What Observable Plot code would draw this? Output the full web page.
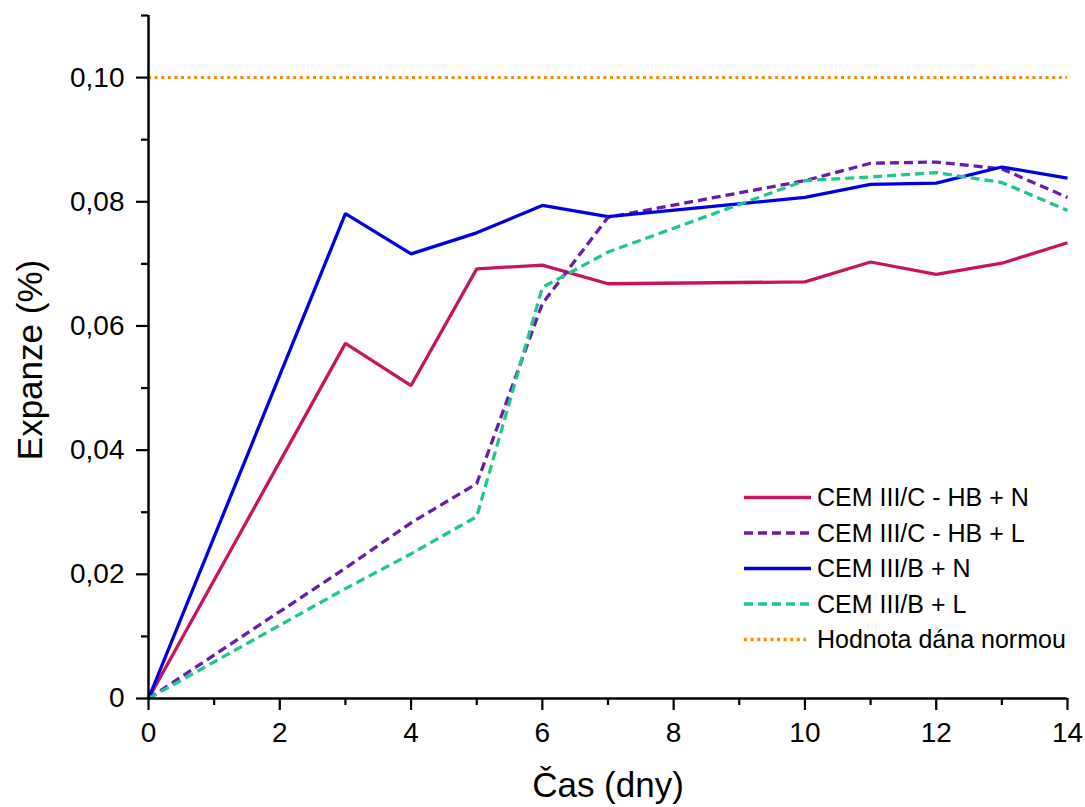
<!DOCTYPE html>
<html>
<head>
<meta charset="utf-8">
<script src="https://cdn.jsdelivr.net/npm/d3@7"></script>
<script src="https://cdn.jsdelivr.net/npm/@observablehq/plot@0.6"></script>
<style>
  html, body { margin: 0; padding: 0; background: #fff; }
  #chart { position: relative; width: 1085px; height: 807px; }
</style>
</head>
<body>
<div id="chart"></div>
<script>
// ---- data ----
const days = [0, 3, 4, 5, 6, 7, 10, 11, 12, 13, 14];
const cemC_HB_N = [0, 0.0572, 0.0504, 0.0692, 0.0698, 0.0668, 0.0671, 0.0703, 0.0683, 0.0701, 0.0734];
const cemC_HB_L = [0, 0.0210, 0.0283, 0.0346, 0.0636, 0.0775, 0.0834, 0.0862, 0.0864, 0.0853, 0.0807];
const cemB_N    = [0, 0.0781, 0.0716, 0.0750, 0.0794, 0.0776, 0.0807, 0.0828, 0.0830, 0.0856, 0.0838];
const cemB_L    = [0, 0.0177, 0.0233, 0.0293, 0.0662, 0.0719, 0.0834, 0.0840, 0.0847, 0.0831, 0.0786];
const normLimit = 0.10;

const seriesNames = ["CEM III/C - HB + N", "CEM III/C - HB + L", "CEM III/B + N", "CEM III/B + L", "Hodnota dána normou"];
const seriesColors = ["#c8145f", "#6a1aad", "#0000e0", "#1ec88c", "#ff8a00"];
const seriesDash = [null, "9,5", null, "9,5", "3,3.6"];

const xMajorTicks = [0, 2, 4, 6, 8, 10, 12, 14];
const xMinorTicks = [1, 3, 5, 7, 9, 11, 13];
const yMajorTicks = [0, 0.02, 0.04, 0.06, 0.08, 0.10];
const yMinorTicks = [0.01, 0.03, 0.05, 0.07, 0.09, 0.11];

const xLabel = "Čas (dny)";
const yLabel = "Expanze (%)";

// ---- build ----
const allSeries = [cemC_HB_N, cemC_HB_L, cemB_N, cemB_L];
const rows = allSeries.map((vals, i) => days.map((d, j) => ({day: d, value: vals[j], series: seriesNames[i]})));

const fmt = d => d === 0 ? "0" : d.toFixed(2).replace(".", ",");
const FONT = "'Liberation Sans', Arial, sans-serif";

const lineMarks = rows.map((data, i) => Plot.line(data, {
  x: "day", y: "value",
  stroke: seriesColors[i],
  strokeWidth: 3.3,
  strokeDasharray: seriesDash[i] || undefined,
  curve: "linear",
  strokeLinejoin: "miter",
  strokeLinecap: "butt"
}));

const chart = Plot.plot({
  width: 1085,
  height: 807,
  marginLeft: 148,
  marginRight: 18,
  marginTop: 15,
  marginBottom: 109,
  style: {fontFamily: FONT, background: "white", color: "black"},
  x: {domain: [0, 14]},
  y: {domain: [0, 0.11]},
  marks: [
    Plot.ruleY([normLimit], {stroke: seriesColors[4], strokeWidth: 3, strokeDasharray: seriesDash[4]}),
    ...lineMarks,
    Plot.axisX({ticks: xMajorTicks, tickSize: 12, tickPadding: 12, fontSize: 28, strokeWidth: 2.2, tickFormat: d => String(d), label: null}),
    Plot.axisX({ticks: xMinorTicks, tickSize: 7, strokeWidth: 2.2, tickFormat: () => "", label: null}),
    Plot.axisY({ticks: yMajorTicks, tickSize: 12, tickPadding: 12, fontSize: 28, strokeWidth: 2.2, tickFormat: fmt, label: null}),
    Plot.axisY({ticks: yMinorTicks, tickSize: 7, strokeWidth: 2.2, tickFormat: () => "", label: null}),
    Plot.ruleY([0], {strokeWidth: 2.5}),
    Plot.ruleX([0], {strokeWidth: 2.5}),
    Plot.text([yLabel], {frameAnchor: "left", rotate: -90, dx: -118, dy: 3, textAnchor: "middle", lineAnchor: "middle", fontSize: 35}),
    Plot.text([xLabel], {frameAnchor: "bottom", dy: 87, textAnchor: "middle", lineAnchor: "middle", fontSize: 35})
  ]
});

document.getElementById("chart").appendChild(chart);

// ---- legend ----
const svg = d3.select(chart);
const lg = svg.append("g").attr("font-family", FONT).attr("font-size", 25).attr("text-anchor", "start");
seriesNames.forEach((name, i) => {
  const y = 497.5 + i * 35.5;
  lg.append("line")
    .attr("x1", 744).attr("x2", i === 4 ? 806 : 811)
    .attr("y1", y).attr("y2", y)
    .attr("stroke", seriesColors[i])
    .attr("stroke-width", 3.3)
    .attr("stroke-dasharray", seriesDash[i] || null);
  lg.append("text")
    .attr("x", 817).attr("y", y)
    .attr("dy", "0.35em")
    .attr("text-anchor", "start")
    .attr("fill", "black")
    .text(name);
});
</script>
</body>
</html>
